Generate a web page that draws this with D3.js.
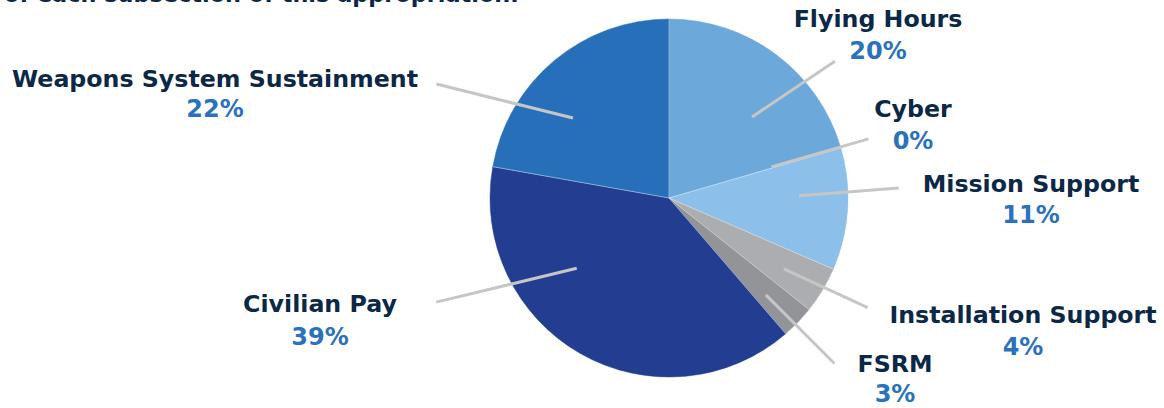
<!DOCTYPE html>
<html>
<head>
<meta charset="utf-8">
<script src="https://cdn.jsdelivr.net/npm/d3@7"></script>
<style>
  html, body { margin: 0; padding: 0; background: #fff; }
  svg { display: block; }
</style>
</head>
<body>
<svg id="chart" width="1164" height="408"></svg>
<script>
// ---- data ----
const categories = ["Flying Hours", "Cyber", "Mission Support", "Installation Support", "FSRM", "Civilian Pay", "Weapons System Sustainment"];
const values = [20.4, 0.1, 11.0, 4.2, 3.0, 39.1, 22.2];
const colors = ["#6ca8da", "#6ca8da", "#8cbfe9", "#acadb0", "#929497", "#233d91", "#2770b9"];
const titleText = "of each subsection of this appropriation.";

// ---- layout (label placement) ----
// leader line: inner point [angleDeg, radius], outer point [angleDeg, radius]; label centre x, baseline y, gap to % line
const labelLayout = [
  { lin: [45.7, 116], lout: [50.5, 215], x: 878, y: 27, gap: 32 },
  { lin: [73.1, 107], lout: [73.5, 208], x: 913, y: 117, gap: 32 },
  { lin: [89.0, 130], lout: [87.5, 230], x: 1031, y: 192, gap: 31 },
  { lin: [121.7, 135], lout: [118.9, 227], x: 1023, y: 323, gap: 32 },
  { lin: [135.0, 137], lout: [135.0, 234], x: 895, y: 372, gap: 30 },
  { lin: [232.7, 116], lout: [245.9, 255], x: 320, y: 312, gap: 33 },
  { lin: [309.8, 125], lout: [296.1, 259], x: 215, y: 87, gap: 30 }
];

const svg = d3.select("#chart");
const cx = 669, cy = 198, R = 179;

svg.append("text")
  .attr("x", 4).attr("y", 2)
  .attr("font-family", "DejaVu Sans, sans-serif")
  .attr("font-weight", "bold")
  .attr("font-size", 22.4)
  .attr("fill", "#0b2847")
  .text(titleText);

const pie = d3.pie().sort(null).value(d => d)(values);
const arc = d3.arc().innerRadius(0).outerRadius(R);

const g = svg.append("g").attr("transform", `translate(${cx},${cy})`);
g.selectAll("path.slice").data(pie).join("path")
  .attr("class", "slice")
  .attr("d", arc)
  .attr("fill", (d, i) => colors[i])
  .attr("stroke", (d, i) => colors[i]) 
  .attr("stroke-width", 0.5);

// thin light separators between slices
g.selectAll("line.sep").data(pie.filter((d, i) => i !== 1)).join("line")
  .attr("class", "sep")
  .attr("x1", 0).attr("y1", 0)
  .attr("x2", d => R * Math.sin(d.startAngle))
  .attr("y2", d => -R * Math.cos(d.startAngle))
  .attr("stroke", "#ffffff")
  .attr("stroke-opacity", 0.55)
  .attr("stroke-width", 0.8);

const polar = (a, r) => {
  const t = a * Math.PI / 180;
  return [r * Math.sin(t), -r * Math.cos(t)];
};

g.selectAll("line.leader").data(labelLayout).join("line")
  .attr("class", "leader")
  .attr("x1", d => polar(d.lin[0], d.lin[1])[0])
  .attr("y1", d => polar(d.lin[0], d.lin[1])[1])
  .attr("x2", d => polar(d.lout[0], d.lout[1])[0])
  .attr("y2", d => polar(d.lout[0], d.lout[1])[1])
  .attr("stroke", "#c6c6c6")
  .attr("stroke-width", 3);

const fmt = v => Math.round(v) + "%";
const labels = svg.selectAll("g.lbl").data(categories).join("g").attr("class", "lbl");
labels.append("text")
  .attr("x", (d, i) => labelLayout[i].x)
  .attr("y", (d, i) => labelLayout[i].y)
  .attr("text-anchor", "middle")
  .attr("font-family", "DejaVu Sans, sans-serif")
  .attr("font-weight", "bold")
  .attr("font-size", 23.7)
  .attr("fill", "#0b2847")
  .text(d => d);
labels.append("text")
  .attr("x", (d, i) => labelLayout[i].x)
  .attr("y", (d, i) => labelLayout[i].y + labelLayout[i].gap)
  .attr("text-anchor", "middle")
  .attr("font-family", "DejaVu Sans, sans-serif")
  .attr("font-weight", "bold")
  .attr("font-size", 24)
  .attr("fill", "#2a72bb")
  .text((d, i) => fmt(values[i]));
</script>
</body>
</html>
